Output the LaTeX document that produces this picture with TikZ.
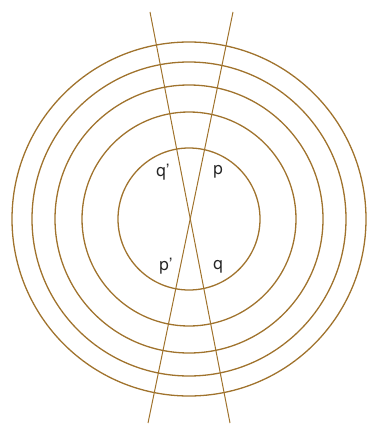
\documentclass[tikz,border=0pt]{standalone}
\usepackage{fontspec}
\setsansfont{TeX Gyre Heros}
\usetikzlibrary{positioning, calc}
\definecolor{ochre}{RGB}{160,115,45}
\tikzset{
  ring/.style={draw=ochre, line width=1.3pt},
  ray/.style={draw=ochre, line width=1pt},
  lbl/.style={font=\sffamily\fontsize{17}{19}\selectfont, text=black!85, inner sep=0pt},
}

\begin{document}
\begin{tikzpicture}[x=1pt, y=-1pt]
    \useasboundingbox (0,0) rectangle (370,425);
    \coordinate (o) at (189,219);
    \foreach \r in {71,107,134,157,177}
      \draw[ring] (o) circle[radius=\r];
    \coordinate (a1) at (150,12);
    \coordinate (a2) at (230,423);
    \coordinate (b1) at (233,12);
    \coordinate (b2) at (148,423);
    \draw[ray] (a1) -- (a2);
    \draw[ray] (b1) -- (b2);
    \node[lbl] (qq) at (163,172) {q'};
    \node[lbl] (p) at (218,172) {p};
    \node[lbl] (pp) at (166,266) {p'};
    \node[lbl] (q) at (218,267) {q};
  \end{tikzpicture}
\end{document}
